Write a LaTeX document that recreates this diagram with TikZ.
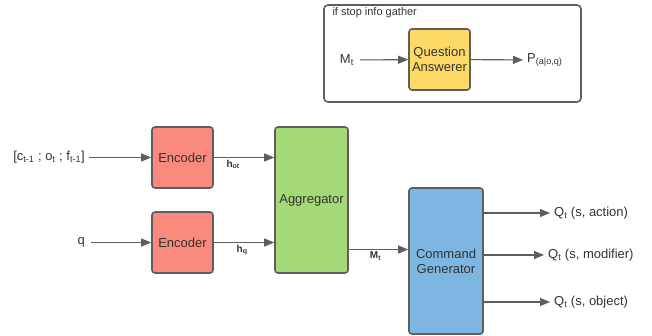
\documentclass[tikz,border=0pt]{standalone}
\usepackage{fontspec}
\setmainfont{Liberation Sans}
\usetikzlibrary{positioning,calc}
\usetikzlibrary{arrows.meta}

\definecolor{linegray}{HTML}{5E5E5E}
\definecolor{textgray}{HTML}{333333}
\definecolor{encred}{HTML}{F98A7D}
\definecolor{agggreen}{HTML}{A3D977}
\definecolor{qayellow}{HTML}{FFD966}
\definecolor{cmdblue}{HTML}{7EB6E2}

\begin{document}
\begin{tikzpicture}[x=1pt, y=-1pt, >={Triangle[length=10pt,width=8pt]},
  block/.style={draw=linegray, line width=1.6pt, rounded corners=3pt, align=center,
    inner sep=0pt, text=textgray, font=\fontsize{13}{15}\selectfont},
  link/.style={->, draw=linegray, line width=1.1pt},
  lbl/.style={text=textgray, font=\fontsize{13}{15}\selectfont, inner sep=4pt},
  small/.style={text=textgray, font=\fontsize{10}{11}\selectfont\bfseries, inner sep=2pt}]
\useasboundingbox (0,0) rectangle (652,336);

% gather frame
\draw [draw=linegray, line width=1.6pt, rounded corners=4pt] (324,5) rectangle (581,102);
\node [text=textgray, font=\fontsize{11}{13}\selectfont, anchor=west] (ifstop) at (329,13) {if stop info gather};
\node [block, fill=qayellow, minimum width=61, minimum height=61] (qa) at (439.5,59.5) {Question\\Answerer};
\node [lbl, anchor=east, inner sep=6pt] (mtop) at (360,60) {M\textsubscript{t}};
\node [lbl, anchor=west] (pout) at (523,60) {P\textsubscript{(a|o,q)}};
\draw [link] (mtop) -- (qa);
\draw [link] (qa) -- (pout);

% encoders
\node [block, fill=encred, minimum width=61, minimum height=61] (enc1) at (182.5,157.5) {Encoder};
\node [block, fill=encred, minimum width=61, minimum height=61] (enc2) at (182.5,242.5) {Encoder};
\node [lbl, anchor=east] (obs) at (89,157.5) {[c\textsubscript{t-1} ; o\textsubscript{t} ; f\textsubscript{t-1}]};
\node [lbl, anchor=east, inner sep=6pt] (qin) at (91,242.5) {q};
\draw [link] (obs) -- (enc1);
\draw [link] (qin) -- (enc2);

% aggregator
\node [block, fill=agggreen, minimum width=73, minimum height=146] (agg) at (311.5,200) {Aggregator};
\draw [link] (enc1.east) -- (enc1.east -| agg.west) node [small, below, pos=0.32] {h\textsubscript{ot}};
\draw [link] (enc2.east) -- (enc2.east -| agg.west) node [small, below, pos=0.47] {h\textsubscript{q}};

% command generator
\node [block, fill=cmdblue, minimum width=74, minimum height=146] (cmd) at (446,261) {Command\\Generator};
\coordinate (aggout) at (agg.east |- 0,249.5);
\draw [link] (aggout) -- (aggout -| cmd.west) node [small, below, pos=0.45] {M\textsubscript{t}};

\node [lbl, anchor=west] (qact) at (550,213) {Q\textsubscript{t} (s, action)};
\node [lbl, anchor=west] (qmod) at (544,255) {Q\textsubscript{t} (s, modifier)};
\node [lbl, anchor=west] (qobj) at (550,302) {Q\textsubscript{t} (s, object)};
\draw [link] (cmd.east |- qact) -- (qact);
\draw [link] (cmd.east |- qmod) -- (qmod);
\draw [link] (cmd.east |- qobj) -- (qobj);
\end{tikzpicture}
\end{document}
